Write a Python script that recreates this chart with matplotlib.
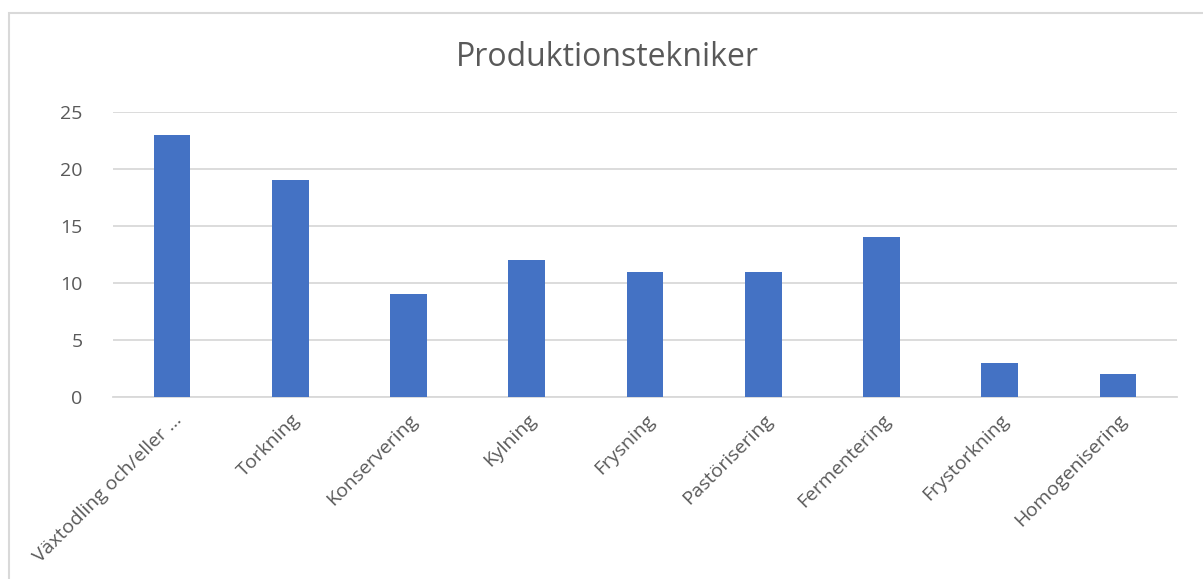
import matplotlib
matplotlib.use("Agg")
import matplotlib.pyplot as plt
from matplotlib.patches import Rectangle

categories = ["Växtodling och/eller …", "Torkning", "Konservering", "Kylning", "Frysning",
              "Pastörisering", "Fermentering", "Frystorkning", "Homogenisering"]
values = [23, 19, 9, 12, 11, 11, 14, 3, 2]
yticks = [0, 5, 10, 15, 20, 25]
title = "Produktionstekniker"

plt.rcParams['font.family'] = ['Open Sans', 'DejaVu Sans']
W, H = 1203, 579
fig = plt.figure(figsize=(W/100, H/100), dpi=100)
fig.patch.set_facecolor('white')

# outer chart border
fig.add_artist(Rectangle((9/W, -0.1), 1.2, 1 - 13/H + 0.1, transform=fig.transFigure,
                         fill=False, edgecolor='#d9d9d9', linewidth=1.5))

ax = fig.add_axes([113/W, 1 - 397/H, (1177-113)/W, (397-112)/H])
x = range(len(categories))
ax.bar(x, values, width=0.31, color='#4472c4', zorder=3)
ax.set_xlim(-0.5, len(categories) - 0.5)
ax.set_ylim(0, 25)
ax.set_yticks(yticks)
ax.yaxis.grid(True, color='#d9d9d9', linewidth=1.3, zorder=0)
ax.set_axisbelow(True)
for s in ['top', 'right', 'left']:
    ax.spines[s].set_visible(False)
ax.spines['bottom'].set_color('#d9d9d9')
ax.spines['bottom'].set_linewidth(1.3)
ax.tick_params(axis='both', length=0, colors='#595959', labelsize=14)
ax.tick_params(axis='y', pad=22)
ax.set_xticks(list(x))
ax.set_xticklabels(categories, rotation=45, ha='right', va='top', rotation_mode='anchor')
ax.tick_params(axis='x', pad=10)
ax.set_facecolor('none')

fig.text(607/W, 1 - 57/H, title, ha='center', va='center', fontsize=23, color='#595959')

fig.savefig('out.png', dpi=100, facecolor='white')
